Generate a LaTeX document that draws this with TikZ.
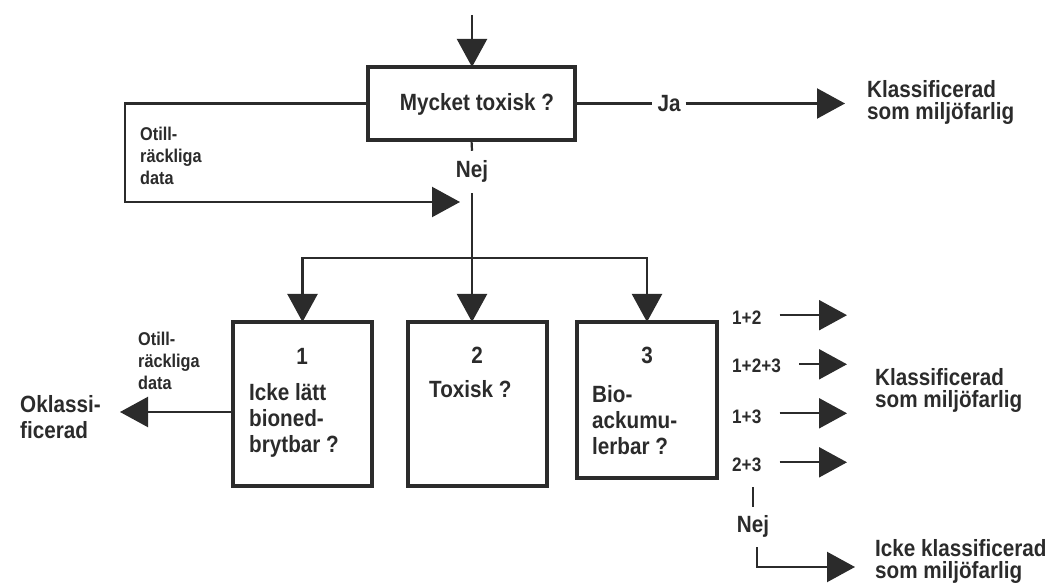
\documentclass[tikz,border=0pt]{standalone}
\usepackage{fontspec}
\setmainfont[FakeStretch=0.88]{Liberation Sans}
\usetikzlibrary{arrows.meta}
\definecolor{inkc}{HTML}{2B2B2B}
\tikzset{
  tri/.tip={Triangle[length=28pt,width=30pt]},
  conn/.style={draw=inkc, line width=2.2pt},
  box/.style={draw=inkc, line width=3.5pt, inner sep=0pt, outer sep=0pt, fill=none},
  txt/.style={text=inkc, inner sep=0pt, align=left, font=\bfseries\fontsize{23.5}{26}\selectfont},
  rtxt/.style={text=inkc, inner sep=0pt, align=left, font=\bfseries\fontsize{23.5}{22}\selectfont},
  smalltxt/.style={text=inkc, inner sep=0pt, align=left, font=\bfseries\fontsize{18.5}{22}\selectfont},
  numtxt/.style={text=inkc, inner sep=0pt, font=\bfseries\fontsize{19.5}{20}\selectfont},
}
\begin{document}
\begin{tikzpicture}[x=1pt,y=-1pt]
\useasboundingbox (0,0) rectangle (1050,585);

% top decision
\node[box, minimum width=207pt, minimum height=73pt] (M) at (471.5,103.5) {};
\node[txt, anchor=center] (Mt) at (477,104) {Mycket toxisk ?};
\coordinate (top) at (472,15);
\draw[conn,-{tri}] (top) -- (top |- M.north);

% Ja branch
\node[txt, inner sep=5pt] (Ja) at (669,104) {Ja};
\coordinate (tip1) at (845,103.5);
\draw[conn] (M.east) -- (Ja.west |- M.east);
\draw[conn,-{tri}] (Ja.east |- M.east) -- (tip1);
\node[rtxt, anchor=base west] (K1) at (867,120) {Klassificerad\\som miljöfarlig};

% insufficient data loop
\coordinate (LL) at (125,202);
\coordinate (nejIn) at (460,202);
\draw[conn,-{tri}] (M.west) -| (LL) -- (nejIn);
\node[smalltxt, anchor=base west] (O1) at (140,185) {Otill-\\räckliga\\data};

% Nej
\node[txt, anchor=base] (Nej1) at (472,178) {Nej};
\draw[conn] (M.south) -- ([yshift=10pt]Nej1.north);
\coordinate (J) at (472,258);
\draw[conn] ([yshift=-10pt]Nej1.south) -- (J);

% three boxes
\node[box, minimum width=139pt, minimum height=164pt] (B1) at (302.5,404) {};
\node[box, minimum width=139pt, minimum height=164pt] (B2) at (477.5,404) {};
\node[box, minimum width=140pt, minimum height=156pt] (B3) at (647,400) {};

\draw[conn,-{tri}] (J) -- (J |- B2.north);
\draw[conn,-{tri}] (J) -| (B1.north);
\draw[conn,-{tri}] (J) -| (B3.north);

\node[txt, anchor=base] (n1) at (302,365) {1};
\node[txt, anchor=base west] (t1) at (249,452) {Icke lätt\\bioned-\\brytbar ?};
\node[txt, anchor=base] (n2) at (477,363) {2};
\node[txt, anchor=base west] (t2) at (429,397) {Toxisk ?};
\node[txt, anchor=base] (n3) at (647,363) {3};
\node[txt, anchor=base west] (t3) at (592,454) {Bio-\\ackumu-\\lerbar ?};

% left: unclassified
\node[smalltxt, anchor=base west] (O2) at (138,390) {Otill-\\räckliga\\data};
\node[txt, anchor=base west] (Ok) at (20,438) {Oklassi-\\ficerad};
\coordinate (okTip) at (120,412);
\draw[conn,-{tri}] ([yshift=-8pt]B1.west) -- (okTip);

% right column
\coordinate (RT) at (847,0);
\node[numtxt, anchor=base west] (l12) at (732,325) {1+2};
\node[numtxt, anchor=base west] (l123) at (732,373) {1+2+3};
\node[numtxt, anchor=base west] (l13) at (732,423) {1+3};
\node[numtxt, anchor=base west] (l23) at (732,471) {2+3};
\draw[conn,-{tri},shorten <=18pt] ([yshift=3pt]l12.east) -- ([yshift=3pt]l12.east -| RT);
\draw[conn,-{tri},shorten <=18pt] ([yshift=2pt]l123.east) -- ([yshift=2pt]l123.east -| RT);
\draw[conn,-{tri},shorten <=18pt] ([yshift=3pt]l13.east) -- ([yshift=3pt]l13.east -| RT);
\draw[conn,-{tri},shorten <=18pt] ([yshift=2pt]l23.east) -- ([yshift=2pt]l23.east -| RT);
\node[rtxt, anchor=base west] (K2) at (875,407) {Klassificerad\\som miljöfarlig};

% Nej at the bottom
\node[txt, anchor=base] (Nej2) at (753,532) {Nej};
\draw[conn,line width=1.6pt] ([yshift=-16pt]l23.south -| Nej2.north) -- ([yshift=8pt]Nej2.north);
\coordinate (LBtip) at (855,567);
\draw[conn,-{tri}] ([yshift=-10pt,xshift=4pt]Nej2.south) |- (LBtip);
\node[rtxt, anchor=base west] (K3) at (875,578) {Icke klassificerad\\som miljöfarlig};
\end{tikzpicture}
\end{document}
